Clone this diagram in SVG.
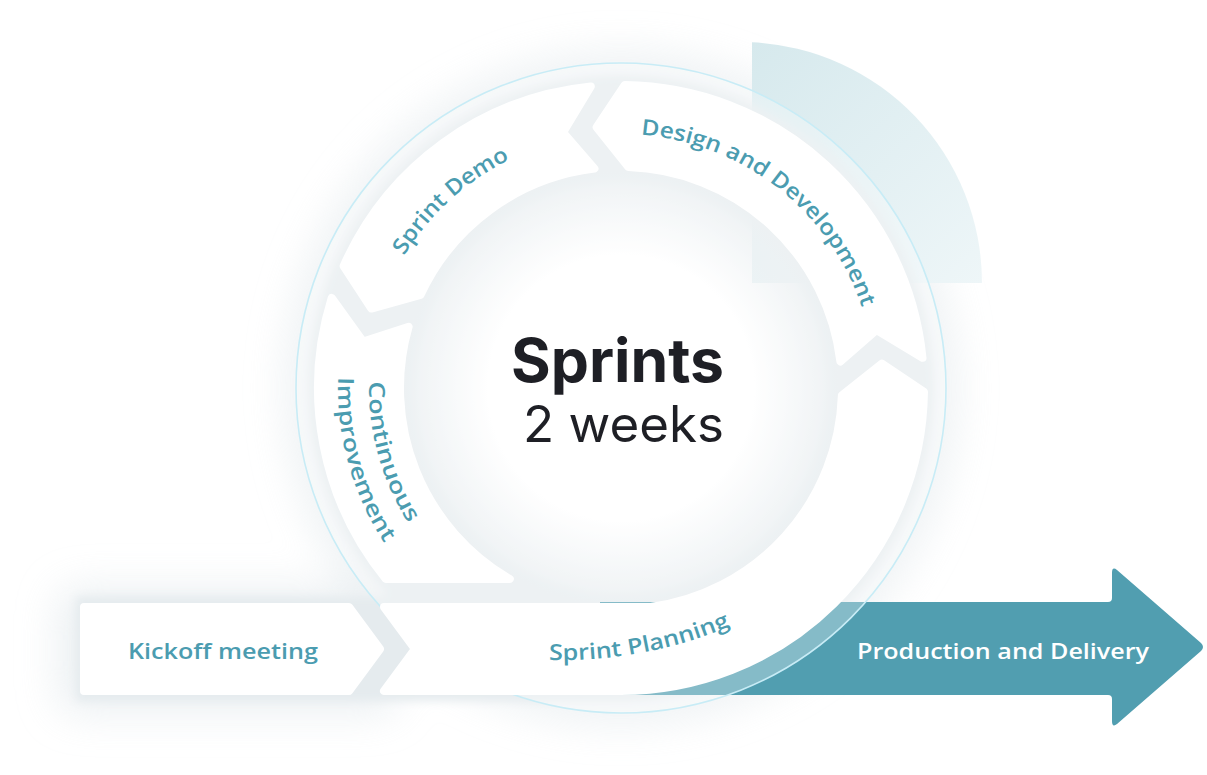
<svg xmlns="http://www.w3.org/2000/svg" width="1207" height="775" viewBox="0 0 1207 775">
  <defs>
    <style>
      .seg{fill:#ffffff;stroke:#ffffff;stroke-width:8;stroke-linejoin:round}
      .lbl{font-family:"Open Sans","Noto Sans",sans-serif;font-weight:600;font-size:22px;fill:#4b9cb0}
      .title{font-family:Inter,"Open Sans",sans-serif;fill:#1e1f25}
    </style>
    <filter id="glow" x="-30%" y="-30%" width="160%" height="160%">
      <feGaussianBlur stdDeviation="20"/>
    </filter>
    <filter id="soft" x="-10%" y="-10%" width="120%" height="120%">
      <feGaussianBlur stdDeviation="5"/>
    </filter>
    <linearGradient id="quarterGrad" x1="752" y1="42" x2="982" y2="283" gradientUnits="userSpaceOnUse">
      <stop offset="0" stop-color="#d6e9ed"/>
      <stop offset="1" stop-color="#eef6f8"/>
    </linearGradient>
    <radialGradient id="hubGrad" cx="621" cy="388" r="222" gradientUnits="userSpaceOnUse">
      <stop offset="0" stop-color="#e5ebee" stop-opacity="0"/>
      <stop offset="0.6" stop-color="#e5ebee" stop-opacity="0"/>
      <stop offset="1" stop-color="#e5ebee" stop-opacity="1"/>
    </radialGradient>
    <path id="pDemo" d="M 379.02 310.78 A 254 254 0 0 1 566.89 139.83"/>
    <path id="pDesign" d="M 590.05 135.89 A 254 254 0 0 1 873.11 357.05"/>
    <path id="pCont" d="M 377.03 324.90 A 252 252 0 0 0 444.37 567.74"/>
    <path id="pImpr" d="M 347.01 317.14 A 283 283 0 0 0 422.64 589.85"/>
    <path id="pPlan" d="M 549 660 Q 650 662 737 623"/>
  </defs>

  <rect width="1207" height="775" fill="#ffffff"/>

  <!-- soft overall glow -->
  <g id="glow-layer" filter="url(#glow)" opacity="0.6">
    <circle cx="621" cy="388" r="316" fill="none" stroke="#dfe6ea" stroke-width="36"/>
    <rect x="58" y="588" width="340" height="125" rx="20" fill="#dfe6ea"/>
  </g>

  <!-- decorative quarter disc -->
  <path id="quarter" d="M 752 42.3 A 241 241 0 0 1 982 283 L 752 283 Z" fill="url(#quarterGrad)"/>

  <!-- gray backing for ring and bar -->
  <g id="backing" filter="url(#soft)">
    <path d="M 308 388 A 313 313 0 1 0 934 388 A 313 313 0 1 0 308 388 Z M 411 388 A 210 210 0 1 1 831 388 A 210 210 0 1 1 411 388 Z" fill="#e5ebee" fill-rule="evenodd"/>
    <rect x="76" y="597" width="560" height="104" fill="#e5ebee"/>
  </g>
  <circle id="hub" cx="621" cy="388" r="222" fill="url(#hubGrad)"/>

  <!-- Production and Delivery arrow -->
  <g id="node-delivery">
    <path d="M 600 602 L 1108 602 Q 1112 602 1112 598 L 1112 573 Q 1112 566 1117 570 L 1201 643 Q 1205 647 1201 651 L 1117 724 Q 1112 728 1112 721 L 1112 699 Q 1112 695 1108 695 L 600 695 Z" fill="#519eb0"/>
    <text x="857" y="659" class="lbl" style="fill:#ffffff" textLength="292" lengthAdjust="spacingAndGlyphs">Production and Delivery</text>
  </g>

  <!-- translucent outer disc -->
  <circle id="outer-disc" cx="621" cy="388" r="325" fill="#ffffff" fill-opacity="0.3" stroke="#c8ecf6" stroke-width="1.6"/>

  <g id="node-design">
    <path class="seg" d="M 624.78 85.02 A 303 303 0 0 1 922.49 357.83 L 876.51 330.05 L 840.40 361.42 A 221 221 0 0 0 628.35 167.12 L 596.60 127.14 Z"/>
    <text class="lbl"><textPath href="#pDesign" startOffset="50%" text-anchor="middle" textLength="297" lengthAdjust="spacingAndGlyphs">Design and Development</textPath></text>
  </g>

  <g id="node-demo">
    <path class="seg" d="M 343.58 266.14 A 303 303 0 0 1 590.83 86.51 L 563.05 132.49 L 594.42 168.60 A 221 221 0 0 0 420.55 294.92 L 371.35 308.52 Z"/>
    <text class="lbl"><textPath href="#pDemo" startOffset="50%" text-anchor="middle" textLength="145" lengthAdjust="spacingAndGlyphs">Sprint Demo</textPath></text>
  </g>

  <g id="node-improvement">
    <path class="seg" d="M 385.8 579 A 303 303 0 0 1 331.69 297.96 L 363.16 341.51 L 408.65 326.74 A 221 221 0 0 0 509.8 579 Z"/>
    <text class="lbl"><textPath href="#pCont" startOffset="50%" text-anchor="middle" textLength="149" lengthAdjust="spacingAndGlyphs">Continuous</textPath></text>
    <text class="lbl"><textPath href="#pImpr" startOffset="50%" text-anchor="middle" textLength="175" lengthAdjust="spacingAndGlyphs">Improvement</textPath></text>
  </g>

  <g id="node-planning">
    <path class="seg" d="M 384 607 L 415 649 L 384 691 L 621 691 A 303 303 0 0 0 923.98 391.78 L 881.86 363.60 L 841.88 395.35 A 221 221 0 0 1 650.7 607 Z"/>
    <text class="lbl"><textPath href="#pPlan" startOffset="0" textLength="186" lengthAdjust="spacingAndGlyphs">Sprint Planning</textPath></text>
  </g>

  <g id="node-kickoff">
    <path class="seg" d="M 84 607 L 349 607 L 380 649 L 349 691 L 84 691 Z"/>
    <text x="128" y="659" class="lbl" textLength="190" lengthAdjust="spacingAndGlyphs">Kickoff meeting</text>
  </g>

  <g id="node-center">
    <text x="511" y="382" class="title" font-size="60" font-weight="700" textLength="213" lengthAdjust="spacingAndGlyphs">Sprints</text>
    <text x="523" y="442" class="title" font-size="50" font-weight="400" textLength="201" lengthAdjust="spacingAndGlyphs">2 weeks</text>
  </g>

  <g id="connectors"></g>
</svg>
